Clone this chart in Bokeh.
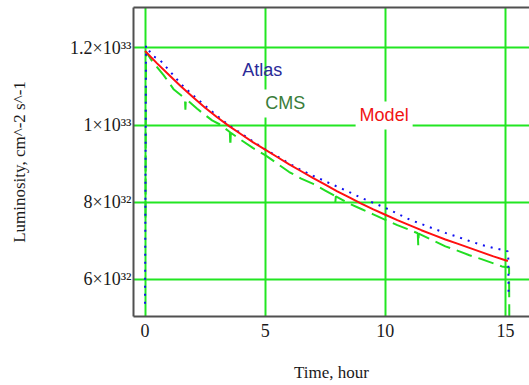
from bokeh.plotting import figure
from bokeh.models import (ColumnDataSource, FixedTicker, LinearAxis, Label,
                          Range1d, Grid)
from bokeh.embed import file_html
from bokeh.resources import INLINE

# Luminosity values are in units of 1e32 cm^-2 s^-1, time in hours
model_t = [0.0, 0.5, 1.0, 1.5, 2.0, 2.5, 3.0, 3.5, 4.0, 4.5, 5.0, 5.5, 6.0, 6.5,
           7.0, 7.5, 8.0, 8.5, 9.0, 9.5, 10.0, 10.5, 11.0, 11.5, 12.0, 12.5,
           13.0, 13.5, 14.0, 14.5, 15.0, 15.1]
model_lum = [11.92, 11.60, 11.30, 11.00, 10.72, 10.45, 10.20, 9.97, 9.76, 9.55,
             9.36, 9.17, 8.98, 8.80, 8.62, 8.45, 8.28, 8.12, 7.96, 7.81, 7.67,
             7.53, 7.40, 7.27, 7.15, 7.03, 6.92, 6.81, 6.70, 6.59, 6.49, 6.47]

atlas_t = [0.0, 0.02, 0.04, 0.3, 0.6, 1.0, 1.5, 2.0, 2.5, 3.0, 3.5, 4.0, 4.5,
           5.0, 5.5, 6.0, 6.5, 7.0, 7.5, 8.0, 8.5, 9.0, 9.5, 10.0, 10.5, 11.0,
           11.5, 12.0, 12.5, 13.0, 13.5, 14.0, 14.5, 15.0, 15.1, 15.12, 15.13]
atlas_lum = [5.36, 8.80, 12.06, 11.80, 11.70, 11.42, 11.06, 10.77, 10.50, 10.24,
             9.99, 9.78, 9.57, 9.37, 9.19, 9.00, 8.83, 8.68, 8.54, 8.40, 8.26,
             8.11, 7.98, 7.85, 7.70, 7.55, 7.43, 7.31, 7.20, 7.10, 6.99, 6.89,
             6.81, 6.74, 6.72, 6.50, 5.57]

cms_t = [0.02, 0.04, 0.3, 0.78, 1.2, 1.6, 1.66, 1.68, 1.70, 2.17, 2.79, 3.1,
         3.5, 3.53, 3.55, 3.57, 4.0, 4.5, 5.0, 5.5, 6.0, 6.5, 7.0, 7.5, 7.9,
         7.92, 7.94, 8.5, 9.0, 9.5, 10.0, 10.5, 11.0, 11.35, 11.37, 11.39, 12.0,
         12.5, 13.0, 13.5, 14.0, 14.5, 14.85, 15.15, 15.16]
cms_lum = [7.60, 11.90, 11.65, 11.29, 10.92, 10.72, 10.70, 10.40, 10.68, 10.42,
           10.12, 10.02, 9.83, 9.82, 9.45, 9.80, 9.61, 9.40, 9.22, 9.00, 8.78,
           8.61, 8.47, 8.30, 8.16, 8.00, 8.15, 7.96, 7.82, 7.68, 7.54, 7.40,
           7.28, 7.19, 6.88, 7.18, 7.00, 6.85, 6.74, 6.62, 6.52, 6.41, 6.33,
           6.30, 4.90]

x_ticks = [0, 5, 10, 15]
y_ticks = [6, 8, 10, 12]
y_tick_labels = {6: "6×10³²", 8: "8×10³²", 10: "1×10³³", 12: "1.2×10³³"}

GRID = "#22e622"
AXIS = "#505050"
SERIF = "Liberation Serif"
SANS = "Liberation Sans"

p = figure(width=529, height=385, output_backend="svg", toolbar_location=None,
           x_range=Range1d(-0.48, 16.0), y_range=Range1d(5.03, 13.05),
           x_axis_type=None, y_axis_type=None,
           min_border_left=133, min_border_right=0,
           min_border_top=7, min_border_bottom=69)
p.outline_line_color = None
p.background_fill_color = "white"
p.border_fill_color = "white"

xaxis = LinearAxis(ticker=FixedTicker(ticks=x_ticks), axis_label="Time, hour")
yaxis = LinearAxis(ticker=FixedTicker(ticks=y_ticks),
                   axis_label="Luminosity, cm^-2 s^-1")
yaxis.major_label_overrides = y_tick_labels
topaxis = LinearAxis(ticker=FixedTicker(ticks=[]))

for ax in (xaxis, yaxis, topaxis):
    ax.axis_line_color = AXIS
    ax.axis_line_width = 2
    ax.major_tick_out = 0
    ax.major_tick_in = 0
    ax.minor_tick_out = 0
    ax.minor_tick_in = 0
    ax.major_label_text_font = SERIF
    ax.major_label_text_font_size = "18px"
    ax.major_label_text_color = "#1a1a1a"
    ax.axis_label_text_font = SERIF
    ax.axis_label_text_font_size = "17px"
    ax.axis_label_text_font_style = "normal"
    ax.axis_label_text_color = "#1a1a1a"

xaxis.major_label_standoff = 7
xaxis.axis_label_standoff = 23
yaxis.major_label_standoff = 2
yaxis.axis_label_standoff = 38

p.add_layout(xaxis, "below")
p.add_layout(yaxis, "left")
p.add_layout(topaxis, "above")

p.add_layout(Grid(dimension=0, ticker=FixedTicker(ticks=x_ticks),
                  grid_line_color=GRID, grid_line_width=2))
p.add_layout(Grid(dimension=1, ticker=FixedTicker(ticks=y_ticks),
                  grid_line_color=GRID, grid_line_width=2))

# measured data and model curve
cms = ColumnDataSource(dict(t=cms_t, lum=cms_lum))
atlas = ColumnDataSource(dict(t=atlas_t, lum=atlas_lum))
model = ColumnDataSource(dict(t=model_t, lum=model_lum))

p.line("t", "lum", source=cms, line_color="#22dd22", line_width=2,
       line_dash="16 7")
p.line("t", "lum", source=atlas, line_color="#1010f0", line_width=2,
       line_dash="2 6")
p.line("t", "lum", source=model, line_color="#ff1010", line_width=2)

# series labels, placed in data coordinates
p.add_layout(Label(x=4.88, y=11.44, text="Atlas", text_font=SANS,
                   text_font_size="18px", text_color="#2a2a98",
                   text_align="center", text_baseline="middle"))
p.add_layout(Label(x=5.84, y=10.56, text="CMS", text_font=SANS,
                   text_font_size="18px", text_color="#3a7d3a",
                   text_align="center", text_baseline="middle",
                   background_fill_color="white", padding=4))
p.add_layout(Label(x=9.95, y=10.25, text="Model", text_font=SANS,
                   text_font_size="18px", text_color="#f01414",
                   text_align="center", text_baseline="middle",
                   background_fill_color="white", padding=4))

open("out.html", "w").write(file_html(p, INLINE))
